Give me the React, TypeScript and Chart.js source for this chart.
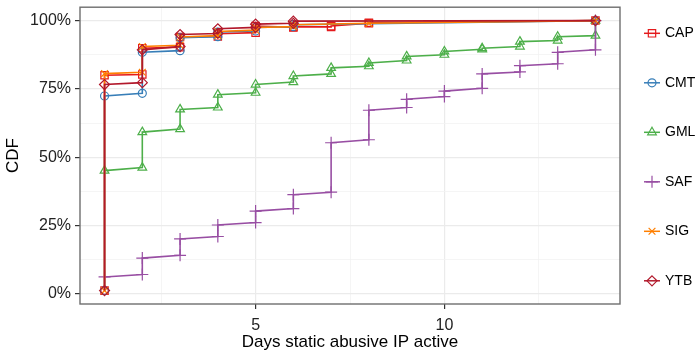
import React, { useEffect, useRef } from 'react';
import { Chart, registerables } from 'chart.js';

Chart.register(...registerables);

const seriesNames = ['CAP', 'CMT', 'GML', 'SAF', 'SIG', 'YTB'];
const seriesColors = ['#E41A1C', '#377EB8', '#4DAF4A', '#984EA3', '#FF7F00', '#B2182B'];
const pointStyles = ['rect', 'circle', 'triangle', 'cross', 'crossRot', 'rectRot'];
const pointRadii = [5.2, 4, 5, 6, 4.8, 5];

const capDays = [1, 1, 2, 2, 3, 3, 4, 4, 5, 5, 6, 6, 7, 7, 8, 8, 14];
const capValues = [0.012, 0.8, 0.803, 0.899, 0.903, 0.94, 0.942, 0.952, 0.956, 0.98, 0.975, 0.977, 0.977, 0.98, 0.99, 0.992, 1.0];

const cmtDays = [1, 1, 2, 2, 3, 3, 4, 4, 5, 5, 6, 6, 14];
const cmtValues = [0.012, 0.724, 0.734, 0.884, 0.89, 0.937, 0.941, 0.958, 0.962, 0.975, 0.978, 0.985, 1.0];

const gmlDays = [1, 2, 2, 3, 3, 4, 4, 5, 5, 6, 6, 7, 7, 8, 8, 9, 9, 10, 10, 11, 11, 12, 12, 13, 13, 14, 14];
const gmlValues = [0.451, 0.462, 0.592, 0.603, 0.675, 0.682, 0.729, 0.736, 0.766, 0.775, 0.797, 0.805, 0.827, 0.833, 0.845, 0.854, 0.869, 0.875, 0.887, 0.895, 0.899, 0.905, 0.923, 0.927, 0.941, 0.945, 1.0];

const safDays = [1, 2, 2, 3, 3, 4, 4, 5, 5, 6, 6, 7, 7, 8, 8, 9, 9, 10, 10, 11, 11, 12, 12, 13, 13, 14, 14];
const safValues = [0.062, 0.071, 0.131, 0.141, 0.201, 0.21, 0.252, 0.261, 0.303, 0.312, 0.363, 0.372, 0.553, 0.564, 0.672, 0.682, 0.712, 0.722, 0.742, 0.752, 0.805, 0.812, 0.835, 0.842, 0.884, 0.893, 1.0];

const sigDays = [1, 1, 2, 2, 3, 3, 4, 4, 5, 5, 6, 6, 8, 14];
const sigValues = [0.012, 0.806, 0.811, 0.905, 0.91, 0.94, 0.945, 0.96, 0.965, 0.975, 0.978, 0.985, 0.99, 1.0];

const ytbDays = [1, 1, 2, 2, 3, 3, 4, 4, 5, 5, 6, 6, 14];
const ytbValues = [0.012, 0.766, 0.773, 0.893, 0.905, 0.949, 0.953, 0.97, 0.975, 0.987, 0.99, 0.998, 1.0];

const allDays = [capDays, cmtDays, gmlDays, safDays, sigDays, ytbDays];
const allValues = [capValues, cmtValues, gmlValues, safValues, sigValues, ytbValues];

const xMajorTicks = [5, 10];
const xGridTicks = [2.5, 5, 7.5, 10, 12.5];
const yMajorTicks = [0, 0.25, 0.5, 0.75, 1];
const yGridTicks = [0, 0.125, 0.25, 0.375, 0.5, 0.625, 0.75, 0.875, 1];

const xTitle = 'Days static abusive IP active';
const yTitle = 'CDF';

const FONT = '"Liberation Sans", Arial, Helvetica, sans-serif';

function drawMarker(ctx: CanvasRenderingContext2D, style: string, x: number, y: number, r: number) {
  ctx.beginPath();
  if (style === 'rect') {
    const s = r * Math.SQRT1_2;
    ctx.rect(x - s, y - s, 2 * s, 2 * s);
  } else if (style === 'circle') {
    ctx.arc(x, y, r, 0, Math.PI * 2);
  } else if (style === 'triangle') {
    for (let k = 0; k < 3; k++) {
      const a = (k * 2 * Math.PI) / 3;
      const px = x + Math.sin(a) * r;
      const py = y - Math.cos(a) * r;
      if (k === 0) ctx.moveTo(px, py); else ctx.lineTo(px, py);
    }
    ctx.closePath();
  } else if (style === 'cross') {
    ctx.moveTo(x, y - r); ctx.lineTo(x, y + r);
    ctx.moveTo(x - r, y); ctx.lineTo(x + r, y);
  } else if (style === 'crossRot') {
    const d = r * Math.SQRT1_2;
    ctx.moveTo(x - d, y - d); ctx.lineTo(x + d, y + d);
    ctx.moveTo(x - d, y + d); ctx.lineTo(x + d, y - d);
  } else if (style === 'rectRot') {
    ctx.moveTo(x, y - r); ctx.lineTo(x + r, y); ctx.lineTo(x, y + r); ctx.lineTo(x - r, y);
    ctx.closePath();
  }
  ctx.stroke();
}

const decorPlugin = {
  id: 'decor',
  afterDatasetsDraw(chart: any) {
    const { ctx, chartArea: a } = chart;
    ctx.save();
    ctx.strokeStyle = '#6e6e6e';
    ctx.lineWidth = 1.4;
    ctx.strokeRect(a.left, a.top, a.right - a.left, a.bottom - a.top);
    ctx.restore();
  },
  afterDraw(chart: any) {
    const { ctx, chartArea: a } = chart;
    ctx.save();
    ctx.fillStyle = '#000';
    ctx.font = `17px ${FONT}`;
    ctx.textAlign = 'center';
    ctx.textBaseline = 'middle';
    ctx.fillText(xTitle, (a.left + a.right) / 2, 342);
    ctx.translate(13, (a.top + a.bottom) / 2);
    ctx.rotate(-Math.PI / 2);
    ctx.fillText(yTitle, 0, 0);
    ctx.restore();

    // legend
    ctx.save();
    const startY = 33.3;
    const step = 49.5;
    seriesNames.forEach((name, i) => {
      const y = startY + i * step;
      ctx.strokeStyle = seriesColors[i];
      ctx.lineWidth = 1.5;
      ctx.beginPath();
      ctx.moveTo(644, y);
      ctx.lineTo(660, y);
      ctx.stroke();
      ctx.lineWidth = 1.2;
      drawMarker(ctx, pointStyles[i], 652, y, pointRadii[i]);
      ctx.fillStyle = '#000';
      ctx.font = `14px ${FONT}`;
      ctx.textAlign = 'left';
      ctx.textBaseline = 'middle';
      ctx.fillText(name, 665, y);
    });
    ctx.restore();
  },
};

export default function App() {
  const ref = useRef<HTMLCanvasElement | null>(null);

  useEffect(() => {
    if (!ref.current) return;
    const datasets = seriesNames.map((name, i) => ({
      label: name,
      data: allDays[i].map((d, j) => ({ x: d, y: allValues[i][j] })),
      borderColor: seriesColors[i],
      backgroundColor: 'rgba(0,0,0,0)',
      borderWidth: 1.6,
      pointStyle: pointStyles[i],
      pointRadius: pointRadii[i],
      pointBorderWidth: 1.2,
      pointBorderColor: seriesColors[i],
      pointBackgroundColor: 'rgba(0,0,0,0)',
      tension: 0,
      fill: false,
      order: seriesNames.length - i,
    }));

    const tickFont = { family: FONT, size: 16 };
    const chart = new Chart(ref.current, {
      type: 'line',
      data: { datasets },
      plugins: [decorPlugin],
      options: {
        responsive: false,
        animation: false,
        devicePixelRatio: 1,
        layout: { padding: { top: 2, right: 78, left: 0, bottom: 0 } },
        plugins: { legend: { display: false }, tooltip: { enabled: false } },
        scales: {
          x: {
            type: 'linear',
            min: 0.35,
            max: 14.65,
            afterBuildTicks: (s: any) => {
              s.ticks = xGridTicks.map((v) => ({ value: v }));
            },
            afterFit: (s: any) => {
              s.height = 51;
              s.paddingLeft = 0;
              s.paddingRight = 0;
            },
            ticks: {
              autoSkip: false,
              maxRotation: 0,
              minRotation: 0,
              padding: 7,
              color: '#222',
              font: tickFont,
              callback: (v: any) => (xMajorTicks.includes(Number(v)) ? String(v) : ''),
            },
            grid: {
              color: (c: any) => (xMajorTicks.includes(c.tick?.value) ? '#ebebeb' : '#f3f3f3'),
              lineWidth: (c: any) => (xMajorTicks.includes(c.tick?.value) ? 1.2 : 0.8),
              tickColor: (c: any) => (xMajorTicks.includes(c.tick?.value) ? '#333' : 'rgba(0,0,0,0)'),
              tickLength: 5,
              tickWidth: 1.2,
            },
            border: { display: false },
          },
          y: {
            type: 'linear',
            min: -0.037,
            max: 1.049,
            afterBuildTicks: (s: any) => {
              s.ticks = yGridTicks.map((v) => ({ value: v }));
            },
            afterFit: (s: any) => {
              s.width = 80;
              s.paddingTop = 0;
              s.paddingBottom = 0;
            },
            ticks: {
              autoSkip: false,
              padding: 4,
              color: '#222',
              font: tickFont,
              callback: (v: any) => (yMajorTicks.includes(Number(v)) ? `${Math.round(Number(v) * 100)}%` : ''),
            },
            grid: {
              color: (c: any) => (yMajorTicks.includes(c.tick?.value) ? '#ebebeb' : '#f3f3f3'),
              lineWidth: (c: any) => (yMajorTicks.includes(c.tick?.value) ? 1.2 : 0.8),
              tickColor: (c: any) => (yMajorTicks.includes(c.tick?.value) ? '#333' : 'rgba(0,0,0,0)'),
              tickLength: 5,
              tickWidth: 1.2,
            },
            border: { display: false },
          },
        },
      },
    } as any);
    return () => chart.destroy();
  }, []);

  return (
    <div style={{ position: 'absolute', left: 0, top: 0, width: 698, height: 355, background: '#fff' }}>
      <canvas ref={ref} width={698} height={355} style={{ display: 'block', width: 698, height: 355 }} />
    </div>
  );
}
